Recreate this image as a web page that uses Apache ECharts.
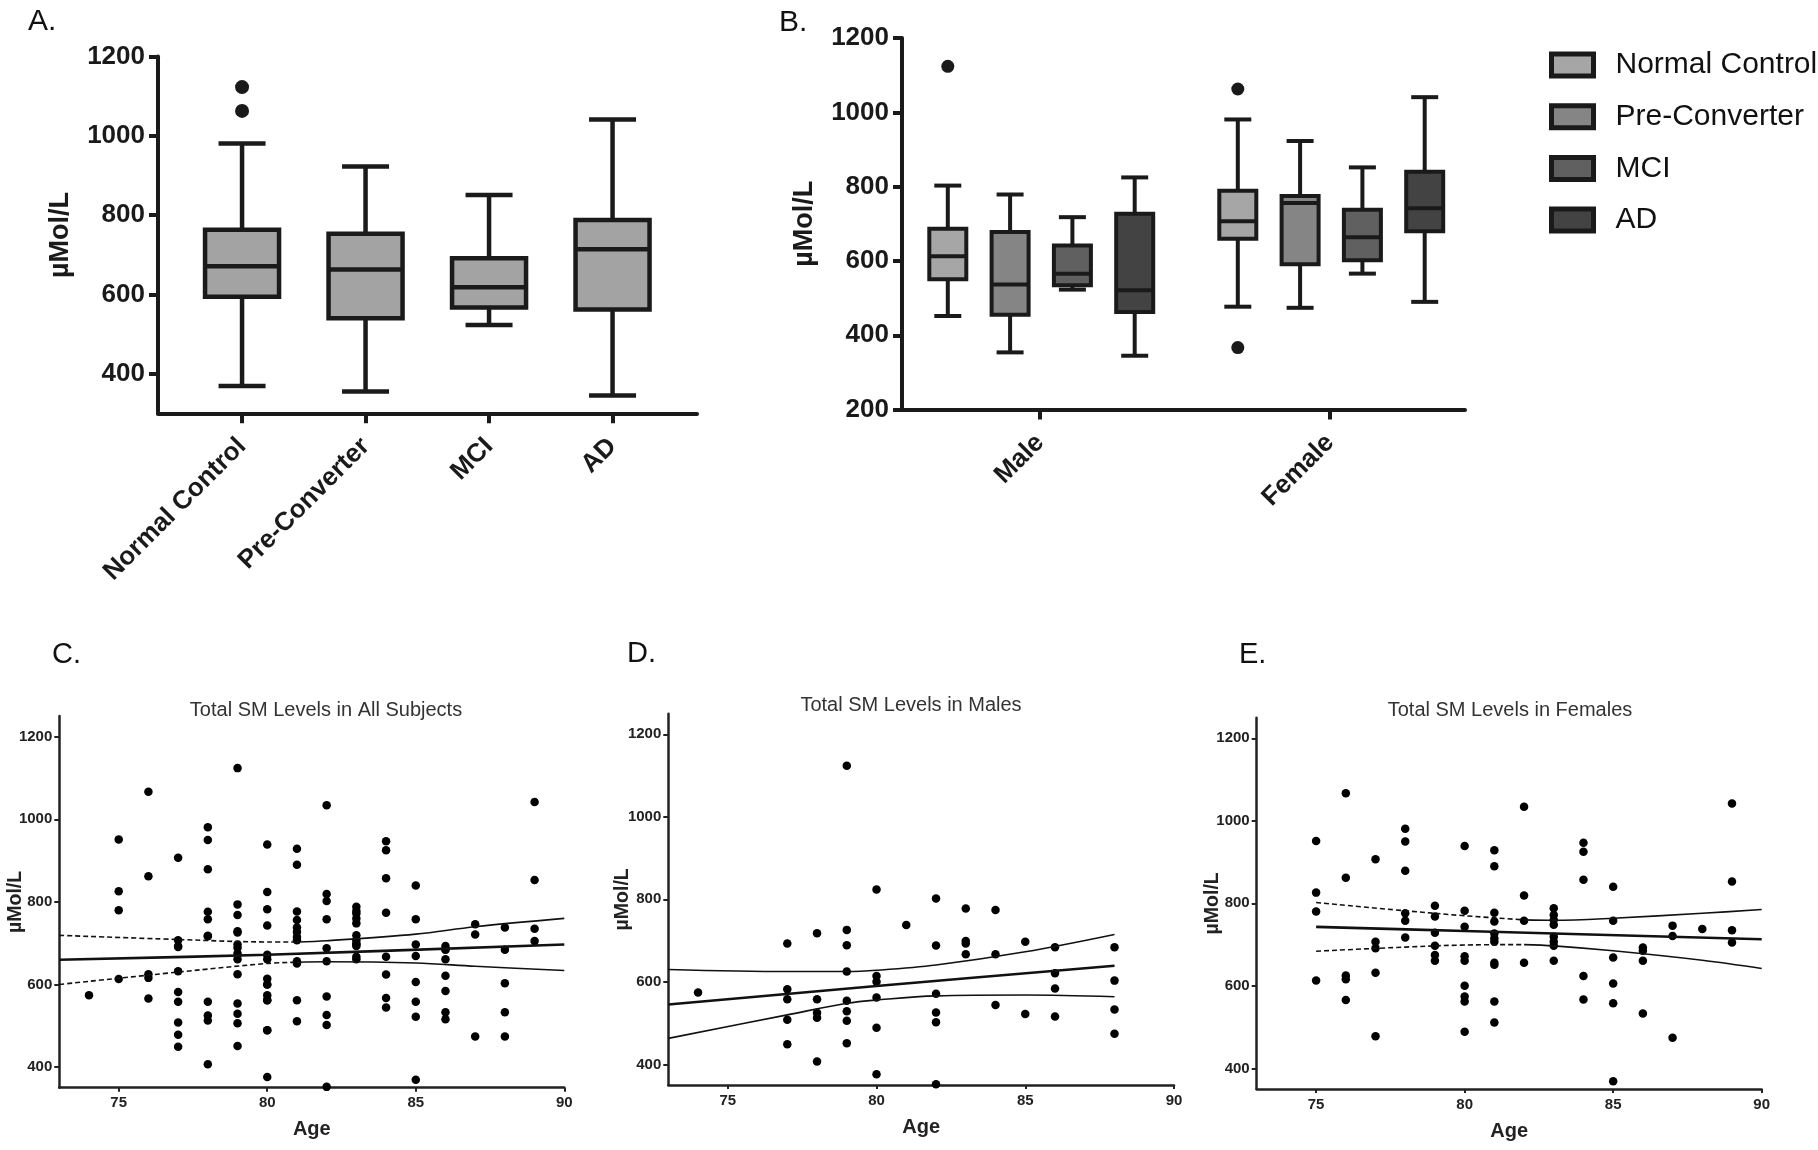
<!DOCTYPE html>
<html><head><meta charset="utf-8">
<script src="https://cdn.jsdelivr.net/npm/echarts@6/dist/echarts.min.js"></script>
<style>html,body{margin:0;padding:0;background:#fff}#c{width:1818px;height:1150px}</style>
</head><body><div id="c"></div><script>
// ---------------- DATA ----------------
const groups = ['Normal Control', 'Pre-Converter', 'MCI', 'AD'];
// Panel A: [min, Q1, median, Q3, max]
const aNormal = [369, 594, 671, 763, 981];
const aPre = [355, 540, 663, 753, 923];
const aMCI = [523, 567, 618, 691, 851];
const aAD = [345, 562, 714, 788, 1041];
const aOutliers = [[0, 1123], [0, 1063]];
// Panel B: per sex [min, Q1, median, Q3, max]
const sexes = ['Male', 'Female'];
const bNormal = [[452, 551, 613, 687, 803], [477, 660, 707, 789, 981]];
const bPre = [[354, 455, 537, 678, 779], [474, 591, 756, 775, 923]];
const bMCI = [[523, 535, 566, 642, 718], [566, 602, 664, 738, 852]];
const bAD = [[345, 463, 521, 727, 825], [490, 680, 742, 840, 1041]];
const bNormalOutliers = [[0, 1124], [1, 1063], [1, 367]];
// Panels C-E: [age, value]
const males = [
  [74, 574],
  [77, 693], [77, 582], [77, 558], [77, 508], [77, 449],
  [78, 718], [78, 558], [78, 525], [78, 513], [78, 407],
  [79, 1124], [79, 726], [79, 689], [79, 625], [79, 554], [79, 529], [79, 506], [79, 451],
  [80, 824], [80, 614], [80, 600], [80, 562], [80, 489], [80, 376],
  [81, 738],
  [82, 802], [82, 688], [82, 571], [82, 526], [82, 502], [82, 352],
  [83, 778], [83, 699], [83, 693], [83, 667],
  [84, 774], [84, 667], [84, 544],
  [85, 697], [85, 522],
  [86, 684], [86, 621], [86, 584], [86, 516],
  [88, 684], [88, 603], [88, 533], [88, 474]
];
const females = [
  [75, 951], [75, 826], [75, 780], [75, 613],
  [76, 1067], [76, 862], [76, 625], [76, 616], [76, 566],
  [77, 907], [77, 707], [77, 691], [77, 632], [77, 478],
  [78, 981], [78, 950], [78, 879], [78, 776], [78, 758], [78, 717],
  [79, 794], [79, 768], [79, 729], [79, 697], [79, 675], [79, 661],
  [80, 939], [80, 782], [80, 743], [80, 672], [80, 661], [80, 600], [80, 574], [80, 562], [80, 489],
  [81, 929], [81, 890], [81, 777], [81, 756], [81, 727], [81, 715], [81, 707], [81, 656], [81, 651], [81, 562], [81, 511],
  [82, 1034], [82, 819], [82, 758], [82, 656],
  [83, 788], [83, 772], [83, 760], [83, 748], [83, 719], [83, 707], [83, 697], [83, 661],
  [84, 947], [84, 925], [84, 857], [84, 624], [84, 567],
  [85, 840], [85, 758], [85, 669], [85, 606], [85, 558], [85, 369],
  [86, 693], [86, 685], [86, 661], [86, 533],
  [87, 746], [87, 721], [87, 474],
  [88, 738],
  [89, 1042], [89, 853], [89, 735], [89, 705]
];
// regression fits and 95% bands
const cFit = [[73, 660], [80, 672], [90, 697]];
const cUpper = [[73, 719], [77, 709], [80, 703], [81, 703], [82, 706], [85, 722], [87, 740], [90, 760]];
const cLower = [[73, 600], [77, 630], [80, 651], [81, 654], [82, 655], [85, 652], [87, 644], [90, 634]];
const dFit = [[73, 545], [80, 590], [88, 639]];
const dUpper = [[73, 630], [77, 625], [79, 625], [80, 628], [82, 641], [85, 673], [88, 715]];
const dLower = [[73, 463], [77, 520], [79, 548], [80, 556], [82, 566], [85, 568], [88, 564]];
const eFit = [[75, 743], [80, 733], [90, 713]];
const eUpper = [[75, 802], [78, 782], [80, 770], [82, 760], [83, 759], [85, 764], [88, 776], [90, 785]];
const eLower = [[75, 684], [78, 694], [80, 699], [82, 700], [83, 697], [85, 685], [88, 662], [90, 642]];
const yTicksA = [400, 600, 800, 1000, 1200];
const yTicksB = [200, 400, 600, 800, 1000, 1200];
const yTicksScatter = [400, 600, 800, 1000, 1200];
const ageTicks = [75, 80, 85, 90];

// ---------------- STYLE ----------------
const FONT = '"Liberation Sans", Arial, Helvetica, sans-serif';
const INK = '#1a1a1a';
const aFill = '#a3a3a3';
const bFills = ['#a6a6a6', '#858585', '#606060', '#434343'];
const bOffsets = [-92.2, -29.9, 32.4, 94.7];
const plain = v => String(v);

function boxItem(fill, offset, boxW, capW, lw) {
  return function (params, api) {
    const c = api.value(0);
    const p = [1, 2, 3, 4, 5].map(k => api.coord([c, api.value(k)]));
    const x = p[0][0] + offset;
    const yMin = p[0][1], yQ1 = p[1][1], yMed = p[2][1], yQ3 = p[3][1], yMax = p[4][1];
    const st = { stroke: INK, lineWidth: lw };
    return {
      type: 'group', children: [
        { type: 'line', shape: { x1: x, y1: yMax, x2: x, y2: yQ3 }, style: st },
        { type: 'line', shape: { x1: x, y1: yQ1, x2: x, y2: yMin }, style: st },
        { type: 'line', shape: { x1: x - capW / 2, y1: yMax, x2: x + capW / 2, y2: yMax }, style: st },
        { type: 'line', shape: { x1: x - capW / 2, y1: yMin, x2: x + capW / 2, y2: yMin }, style: st },
        { type: 'rect', shape: { x: x - boxW / 2, y: yQ3, width: boxW, height: yQ1 - yQ3 }, style: { fill: fill, stroke: INK, lineWidth: lw } },
        { type: 'line', shape: { x1: x - boxW / 2, y1: yMed, x2: x + boxW / 2, y2: yMed }, style: st }
      ]
    };
  };
}
function dotItem(offset, r) {
  return function (params, api) {
    const p = api.coord([api.value(0), api.value(1)]);
    return { type: 'circle', shape: { cx: p[0] + offset, cy: p[1], r: r }, style: { fill: INK } };
  };
}

const grids = [
  { left: 158, top: 56.6, width: 539, height: 356.7 },    // 0 A line
  { left: 180.3, top: 56.6, width: 494, height: 356.7 },  // 1 A categories
  { left: 902, top: 38.1, width: 563, height: 371.5 },    // 2 B line
  { left: 895, top: 38.1, width: 580, height: 371.5 },    // 3 B categories
  { left: 59.3, top: 716.1, width: 505, height: 371.6 },  // 4 C
  { left: 668.3, top: 713.7, width: 505.7, height: 371.3 },// 5 D
  { left: 1256.7, top: 717.7, width: 505, height: 371.3 } // 6 E
].map(g => Object.assign({ outerBoundsMode: 'none', containLabel: false }, g));

const hidden = { show: false };
const boldAB = { fontFamily: FONT, fontWeight: 'bold', fontSize: 26, color: INK };

function lineOnlyX(gi) {
  return { type: 'value', gridIndex: gi, min: 0, max: 1, position: 'bottom',
    axisLine: { show: true, onZero: false, lineStyle: { color: INK, width: 4 } },
    axisTick: hidden, axisLabel: hidden, splitLine: hidden };
}
function catX(gi, data) {
  return { type: 'category', gridIndex: gi, data: data, position: 'bottom',
    axisLine: { show: false },
    axisTick: { show: true, alignWithLabel: true, length: 10, lineStyle: { color: INK, width: 4 } },
    axisLabel: Object.assign({ rotate: 45, margin: 29, interval: 0 }, boldAB), splitLine: hidden };
}
function valueYAB(gi, min, ticks, gap) {
  return { type: 'value', gridIndex: gi, min: min, max: 1200,
    name: 'µMol/L', nameLocation: 'middle', nameGap: gap, nameMoveOverlap: false,
    nameTextStyle: { fontFamily: FONT, fontWeight: 'bold', fontSize: 27, color: INK },
    axisLine: { show: true, lineStyle: { color: INK, width: 4 } },
    axisTick: { show: true, customValues: ticks, length: 9, lineStyle: { color: INK, width: 4 } },
    axisLabel: Object.assign({ customValues: ticks, margin: 13, formatter: plain }, boldAB), splitLine: hidden };
}
function hiddenY(gi, min) {
  return { type: 'value', gridIndex: gi, min: min, max: 1200, show: false, splitLine: hidden };
}
function scatterX(gi) {
  return { type: 'value', gridIndex: gi, min: 73, max: 90, name: 'Age', nameLocation: 'middle', nameGap: 32,
    nameMoveOverlap: false,
    nameTextStyle: { fontFamily: FONT, fontWeight: 'bold', fontSize: 20, color: '#222' },
    axisLine: { show: true, onZero: false, lineStyle: { color: '#222', width: 2.5 } },
    axisTick: { show: true, customValues: ageTicks, length: 4, lineStyle: { color: '#222', width: 2 } },
    axisLabel: { customValues: ageTicks, fontFamily: FONT, fontWeight: 'bold', fontSize: 15, color: '#222', margin: 8, formatter: plain },
    splitLine: hidden };
}
function scatterY(gi, gap) {
  return { type: 'value', gridIndex: gi, min: 350, max: 1250, name: 'µMol/L', nameLocation: 'middle', nameGap: gap,
    nameMoveOverlap: false,
    nameTextStyle: { fontFamily: FONT, fontWeight: 'bold', fontSize: 19.5, color: '#222' },
    axisLine: { show: true, onZero: false, lineStyle: { color: '#222', width: 2.5 } },
    axisTick: { show: true, customValues: yTicksScatter, length: 5, lineStyle: { color: '#222', width: 2 } },
    axisLabel: { customValues: yTicksScatter, fontFamily: FONT, fontWeight: 'bold', fontSize: 15, color: '#222', margin: 7, formatter: plain },
    splitLine: hidden };
}

const xAxis = [lineOnlyX(0), catX(1, groups), lineOnlyX(2), catX(3, sexes), scatterX(4), scatterX(5), scatterX(6)];
const yAxis = [valueYAB(0, 300, yTicksA, 84), hiddenY(1, 300), valueYAB(2, 200, yTicksB, 84), hiddenY(3, 200),
  scatterY(4, 34), scatterY(5, 36), scatterY(6, 34)];

const series = [];
// Panel A
series.push({ type: 'custom', name: 'A boxes', xAxisIndex: 1, yAxisIndex: 1,
  data: [[0].concat(aNormal), [1].concat(aPre), [2].concat(aMCI), [3].concat(aAD)],
  encode: { x: 0, y: [1, 2, 3, 4, 5] }, renderItem: boxItem(aFill, 0, 74, 47, 4.5), silent: true });
series.push({ type: 'custom', name: 'A outliers', xAxisIndex: 1, yAxisIndex: 1, data: aOutliers,
  encode: { x: 0, y: 1 }, renderItem: dotItem(0, 7), silent: true });
// Panel B
[bNormal, bPre, bMCI, bAD].forEach((arr, i) => {
  series.push({ type: 'custom', name: groups[i], xAxisIndex: 3, yAxisIndex: 3,
    itemStyle: { color: bFills[i] },
    data: arr.map((v, k) => [k].concat(v)), encode: { x: 0, y: [1, 2, 3, 4, 5] },
    renderItem: boxItem(bFills[i], bOffsets[i], 37, 27, 4), silent: true });
});
series.push({ type: 'custom', name: 'B outliers', xAxisIndex: 3, yAxisIndex: 3, data: bNormalOutliers,
  encode: { x: 0, y: 1 }, renderItem: dotItem(bOffsets[0], 6.5), silent: true });
// Scatter panels
function addScatter(gi, pts) {
  series.push({ type: 'scatter', xAxisIndex: gi, yAxisIndex: gi, data: pts, symbolSize: 8.5,
    itemStyle: { color: '#000', opacity: 1 }, silent: true, z: 3 });
}
function addLine(gi, pts, width, dashed) {
  series.push({ type: 'line', xAxisIndex: gi, yAxisIndex: gi, data: pts, showSymbol: false, smooth: 0.35,
    lineStyle: { color: '#111', width: width, type: dashed ? [5, 3] : 'solid' }, silent: true, z: 4 });
}
addScatter(4, males.concat(females));
addLine(4, cFit, 2.6, false);
addLine(4, cUpper.filter(p => p[0] <= 81), 1.6, true);
addLine(4, cUpper.filter(p => p[0] >= 81), 1.6, false);
addLine(4, cLower.filter(p => p[0] <= 81), 1.6, true);
addLine(4, cLower.filter(p => p[0] >= 81), 1.6, false);
addScatter(5, males);
addLine(5, dFit, 2.6, false);
addLine(5, dUpper, 1.6, false);
addLine(5, dLower, 1.6, false);
addScatter(6, females);
addLine(6, eFit, 2.6, false);
addLine(6, eUpper.filter(p => p[0] <= 82), 1.6, true);
addLine(6, eUpper.filter(p => p[0] >= 82), 1.6, false);
addLine(6, eLower.filter(p => p[0] <= 82), 1.6, true);
addLine(6, eLower.filter(p => p[0] >= 82), 1.6, false);

function txt(t, x, y, size, opts) {
  return Object.assign({ type: 'text', x: x, y: y, silent: true,
    style: Object.assign({ text: t, fontSize: size, fontFamily: FONT, fill: '#111',
      align: 'left', verticalAlign: 'middle', textAlign: 'left', textVerticalAlign: 'middle' }, opts || {}) });
}
const graphic = [
  txt('A.', 28, 22, 30),
  txt('B.', 779, 23, 30),
  txt('C.', 52, 655, 29),
  txt('D.', 627, 654, 29),
  txt('E.', 1239, 655, 29),
  txt('Total SM Levels in All Subjects', 326, 710, 20, { align: 'center', textAlign: 'center', fill: '#333' }),
  txt('Total SM Levels in Males', 911, 705.5, 20, { align: 'center', textAlign: 'center', fill: '#333' }),
  txt('Total SM Levels in Females', 1510, 710.5, 20, { align: 'center', textAlign: 'center', fill: '#333' })
];

const chart = echarts.init(document.getElementById('c'), null, { renderer: 'canvas' });
chart.setOption({
  animation: false,
  backgroundColor: '#fff',
  grid: grids,
  xAxis: xAxis,
  yAxis: yAxis,
  legend: {
    orient: 'vertical', left: 1549, top: 50, padding: 0, itemWidth: 42, itemHeight: 22, itemGap: 21.7,
    icon: 'rect', selectedMode: false,
    textStyle: { fontFamily: FONT, fontSize: 30, color: '#111', padding: [0, 0, 0, 17] },
    data: groups.map((g, i) => ({ name: g, icon: 'rect', itemStyle: { color: bFills[i], borderColor: INK, borderWidth: 5 } }))
  },
  graphic: graphic,
  series: series
});
</script></body></html>
